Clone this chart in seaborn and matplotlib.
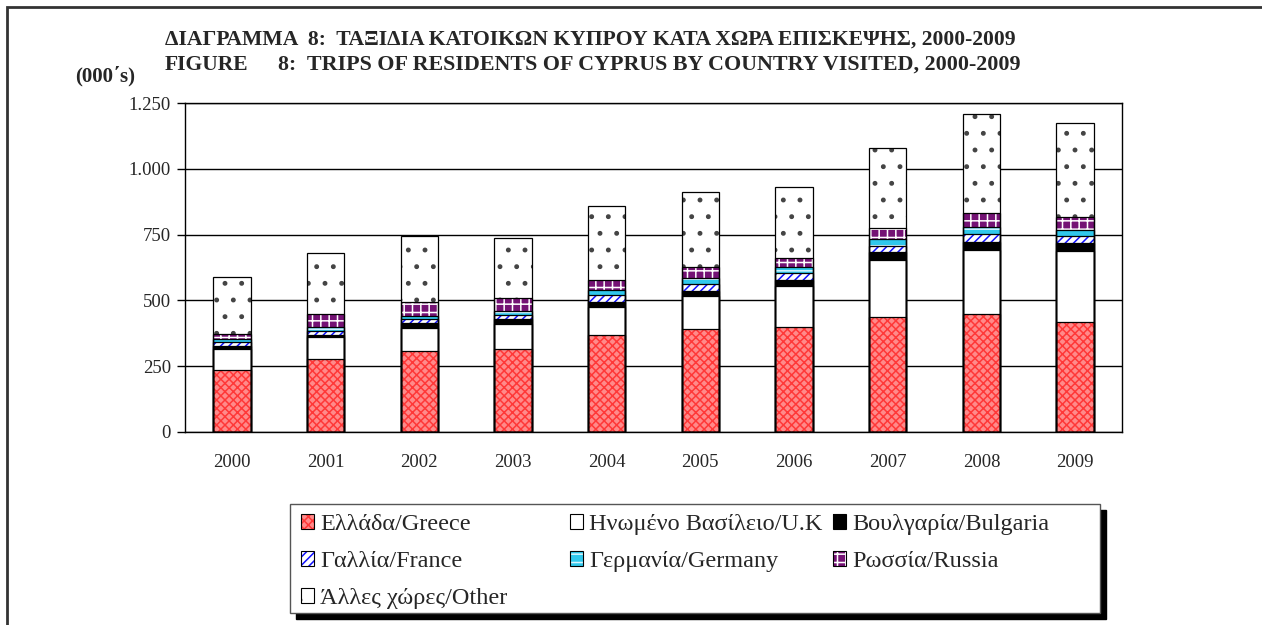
import numpy as np
import pandas as pd
import matplotlib.pyplot as plt
import seaborn as sns
from matplotlib.patches import Patch, Rectangle
from matplotlib.ticker import FuncFormatter

# --- data (thousands of trips) ---
years = ["2000", "2001", "2002", "2003", "2004", "2005", "2006", "2007", "2008", "2009"]
greece = [236, 276, 308, 315, 369, 390, 400, 438, 447, 419]
uk = [81, 84, 86, 97, 107, 127, 156, 216, 245, 269]
bulgaria = [9, 9, 19, 19, 19, 20, 22, 31, 31, 29]
france = [15, 16, 16, 14, 26, 24, 27, 23, 29, 28]
germany = [14, 15, 13, 16, 19, 23, 23, 24, 28, 23]
russia = [19, 48, 53, 49, 38, 42, 34, 44, 51, 48]
other = [214, 232, 250, 226, 281, 287, 268, 302, 377, 357]

labels = [
    "Ελλάδα/Greece",
    "Ηνωμένο Βασίλειο/U.K",
    "Βουλγαρία/Bulgaria",
    "Γαλλία/France",
    "Γερμανία/Germany",
    "Ρωσσία/Russia",
    "Άλλες χώρες/Other",
]
y_ticks = [0, 250, 500, 750, 1000, 1250]

# face colour, hatch, hatch colour
styles = [
    ("#ff8a8a", "xxxx", "#ff3838"),
    ("white", "", "white"),
    ("black", "", "black"),
    ("white", "////", "#1010ff"),
    ("#30c8ec", "--", "#d8f6ff"),
    ("#741274", "++", "white"),
    ("white", ".", "#444444"),
]

df = pd.DataFrame(
    {
        "Year": years,
        labels[0]: greece,
        labels[1]: uk,
        labels[2]: bulgaria,
        labels[3]: france,
        labels[4]: germany,
        labels[5]: russia,
        labels[6]: other,
    }
)
cum = df[labels].cumsum(axis=1)

sns.set_style("white")
plt.rcParams["font.family"] = ["Liberation Serif", "DejaVu Serif"]
plt.rcParams["hatch.linewidth"] = 1.1

W, H = 1262, 625
fig = plt.figure(figsize=(W / 100, H / 100), dpi=100)
ax = fig.add_axes([185 / W, 1 - 432 / H, 937 / W, 329 / H])

# stacked bars: draw cumulative tops, largest first
for i in reversed(range(len(labels))):
    n0 = len(ax.patches)
    sns.barplot(x=df["Year"], y=cum[labels[i]], ax=ax, width=0.4, saturation=1, color="white")
    face, hatch, hcol = styles[i]
    for p in ax.patches[n0:]:
        p.set_facecolor(face)
        p.set_hatch(hatch)
        p.set_edgecolor(hcol)
        p.set_linewidth(0)
        p.set_zorder(2)

# outlines
for i in reversed(range(len(labels))):
    n0 = len(ax.patches)
    sns.barplot(x=df["Year"], y=cum[labels[i]], ax=ax, width=0.4, saturation=1, color="white")
    for p in ax.patches[n0:]:
        p.set_facecolor("none")
        p.set_edgecolor("black")
        p.set_linewidth(0.9)
        p.set_zorder(3)

ax.set_ylim(0, 1250)
ax.set_xlim(-0.5, len(years) - 0.5)
ax.set_yticks(y_ticks)
ax.yaxis.set_major_formatter(FuncFormatter(lambda v, _: f"{int(v):,}".replace(",", ".")))
ax.yaxis.grid(True, color="black", linewidth=1)
ax.set_axisbelow(True)
ax.set_xlabel("")
ax.set_ylabel("")
ax.tick_params(axis="y", length=6, width=1, color="black", labelsize=13.5, pad=4, left=True)
ax.tick_params(axis="x", length=0, labelsize=13.5, pad=16)
for s in ax.spines.values():
    s.set_color("black")
    s.set_linewidth(1)

# titles
fig.text(165 / W, 1 - 40 / H, "ΔΙΑΓΡΑΜΜΑ  8:  ΤΑΞΙΔΙΑ ΚΑΤΟΙΚΩΝ ΚΥΠΡΟΥ ΚΑΤΑ ΧΩΡΑ ΕΠΙΣΚΕΨΗΣ, 2000-2009",
         fontsize=15.6, fontweight="bold", va="center", ha="left")
fig.text(165 / W, 1 - 65 / H, "FIGURE", fontsize=15.6, fontweight="bold", va="center", ha="left")
fig.text(278 / W, 1 - 65 / H, "8:  TRIPS OF RESIDENTS OF CYPRUS BY COUNTRY VISITED, 2000-2009",
         fontsize=15.8, fontweight="bold", va="center", ha="left")
fig.text(75 / W, 1 - 76 / H, "(000΄s)", fontsize=15, fontweight="bold", va="center", ha="left")

# outer frame
fig.patches.append(Rectangle((7 / W, -0.1), 1.2, 1 - 7 / H + 0.1, transform=fig.transFigure,
                             fill=False, edgecolor="#333333", linewidth=2))

# legend box with black shadow
lx0, ly0, lx1, ly1 = 290, 504, 1100, 613
fig.patches.append(Rectangle(((lx0 + 6) / W, 1 - (ly1 + 6) / H), (lx1 - lx0) / W, (ly1 - ly0) / H,
                             transform=fig.transFigure, facecolor="black", edgecolor="black", zorder=1))
fig.patches.append(Rectangle((lx0 / W, 1 - ly1 / H), (lx1 - lx0) / W, (ly1 - ly0) / H,
                             transform=fig.transFigure, facecolor="white", edgecolor="#555555",
                             linewidth=1, zorder=2))

handles = []
for (face, hatch, hcol) in styles:
    fill = Patch(facecolor=face, hatch=hatch, edgecolor=hcol, linewidth=0)
    edge = Patch(facecolor="none", edgecolor="black", linewidth=0.8)
    handles.append((fill, edge))

# three equal-width columns, filled row by row
columns = [[0, 3, 6], [1, 4], [2, 5]]
col_x = [301, 570, 833]
for xs, idx in zip(col_x, columns):
    leg = fig.legend([handles[k] for k in idx], [labels[k] for k in idx],
                     loc="upper left", bbox_to_anchor=(xs / W, 1 - 514 / H),
                     ncol=1, frameon=False, fontsize=17.5, handlelength=0.55, handleheight=0.55,
                     handletextpad=0.25, labelspacing=0.66, borderaxespad=0, borderpad=0)
    leg.set_zorder(5)

fig.savefig("out.png", dpi=100)
